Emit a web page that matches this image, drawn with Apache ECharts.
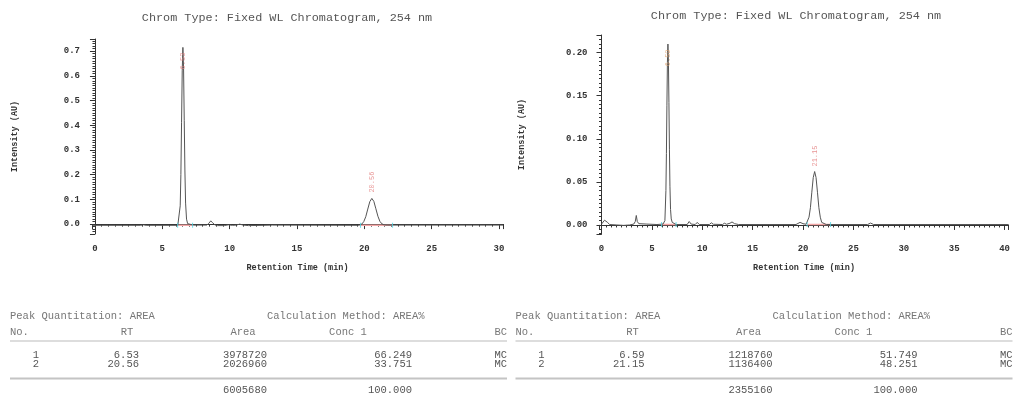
<!DOCTYPE html>
<html>
<head>
<meta charset="utf-8">
<title>Chromatograms</title>
<script src="https://cdn.jsdelivr.net/npm/echarts@6/dist/echarts.min.js"></script>
<style>
html, body { margin: 0; padding: 0; background: #fff; }
#chart { width: 1013px; height: 396px; }
</style>
</head>
<body>
<div id="chart"></div>
<script>
var titleText = 'Chrom Type: Fixed WL Chromatogram, 254 nm';

// left run: trace [min, AU]
var leftTrace = [
    [-0.2, -0.005], [3.4, -0.005], [3.6, -0.003], [3.8, -0.005], [6.15, -0.005],
    [6.2, -0.004], [6.25, 0.002], [6.33, 0.074], [6.38, 0.2], [6.43, 0.41], [6.48, 0.62],
    [6.53, 0.715], [6.58, 0.63], [6.63, 0.42], [6.68, 0.215], [6.73, 0.085], [6.8, 0.02],
    [6.88, 0.002], [7.0, -0.003], [7.3, -0.004], [8.3, -0.004], [8.45, 0.003], [8.6, 0.013],
    [8.75, 0.005], [8.9, -0.003], [9.1, -0.006], [9.6, -0.006], [9.9, -0.003], [10.2, -0.005],
    [10.5, -0.004], [10.75, 0.0], [11.0, -0.004], [11.4, -0.006], [12.5, -0.005], [13.2, -0.004],
    [19.5, -0.005], [19.66, -0.004], [19.81, 0.0], [19.96, 0.010], [20.11, 0.030], [20.26, 0.061],
    [20.41, 0.091], [20.56, 0.104], [20.71, 0.092], [20.86, 0.062], [21.01, 0.032], [21.16, 0.011],
    [21.31, 0.001], [21.46, -0.003], [21.7, -0.004], [30.3, -0.004]
];
var leftPeakRT = [6.53, 20.56];
var leftPeakLabelY = [0.66, 0.17];
var leftPeakLabelColor = ['#e27b7b', '#e27b7b'];
var leftIntegStart = [6.14, 19.72];
var leftIntegEnd = [7.25, 22.1];
var leftBaseY = -0.005;

// right run
var rightTrace = [
    [0.0, 0.001], [0.15, 0.003], [0.3, 0.0055], [0.45, 0.006], [0.6, 0.003], [0.8, 0.0005],
    [1.5, 0.0], [2.2, -0.0005], [2.8, 0.0], [3.2, 0.001], [3.35, 0.004], [3.45, 0.011],
    [3.55, 0.004], [3.7, 0.0015], [4.5, 0.001], [5.5, 0.0005], [6.1, 0.001], [6.2, 0.002],
    [6.29, 0.005], [6.39, 0.040], [6.44, 0.083], [6.49, 0.139], [6.54, 0.189], [6.59, 0.21],
    [6.64, 0.19], [6.69, 0.142], [6.74, 0.088], [6.79, 0.045], [6.85, 0.018], [6.92, 0.007],
    [7.02, 0.003], [7.2, 0.001], [7.4, 0.0005], [8.5, 0.0005], [8.7, 0.004], [8.9, 0.001],
    [9.3, 0.0005], [9.5, 0.003], [9.7, 0.0005], [10.7, 0.0005], [10.9, 0.0025], [11.1, 0.0008],
    [12.0, 0.0005], [12.2, 0.002], [12.4, 0.0008], [12.75, 0.002], [12.95, 0.0035], [13.2, 0.0015],
    [13.6, 0.0005], [19.3, 0.0005], [19.7, 0.003], [20.0, 0.0015], [20.3, 0.0008], [20.45, 0.003],
    [20.59, 0.009], [20.73, 0.020], [20.87, 0.038], [21.01, 0.055], [21.15, 0.062], [21.29, 0.055],
    [21.43, 0.038], [21.57, 0.020], [21.71, 0.009], [21.85, 0.003], [22.0, 0.001], [22.3, 0.0005],
    [26.4, 0.0005], [26.7, 0.0022], [27.0, 0.0005], [40.4, 0.0005]
];
var rightPeakRT = [6.59, 21.15];
var rightPeakLabelY = [0.194, 0.080];
var rightPeakLabelColor = ['#e0a06a', '#e27b7b'];
var rightIntegStart = [5.96, 20.4];
var rightIntegEnd = [7.4, 22.73];
var rightBaseY = 0.0005;

// tables
var tableHead = ['No.', 'RT', 'Area', 'Conc 1', 'BC'];
var peakNo = ['1', '2'];
var leftRT = ['6.53', '20.56'];
var leftArea = ['3978720', '2026960'];
var leftConc = ['66.249', '33.751'];
var leftBC = ['MC', 'MC'];
var leftTotal = ['6005680', '100.000'];
var rightRT = ['6.59', '21.15'];
var rightArea = ['1218760', '1136400'];
var rightConc = ['51.749', '48.251'];
var rightBC = ['MC', 'MC'];
var rightTotal = ['2355160', '100.000'];

var mono = 'Liberation Mono';
var axisColor = '#333';

function fmtEvery(step, digits) {
    return function (v) {
        var k = v / step;
        return Math.abs(k - Math.round(k)) < 1e-6 ? v.toFixed(digits) : '';
    };
}

function majorX(grid, min, max, split) {
    return {
        type: 'value', gridIndex: grid, min: min, max: max, splitNumber: split, position: 'bottom',
        name: 'Retention Time (min)', nameLocation: 'middle', nameGap: 29,
        nameTextStyle: { fontFamily: mono, fontWeight: 'bold', fontSize: 8.5, color: axisColor },
        axisLine: { lineStyle: { color: axisColor, width: 1 } },
        axisTick: { length: 5, lineStyle: { color: axisColor } },
        axisLabel: { formatter: fmtEvery(5, 0), margin: 10, fontFamily: mono, fontWeight: 'bold', fontSize: 9, color: axisColor },
        splitLine: { show: false }
    };
}
function minorX(grid, min, max, split) {
    return {
        type: 'value', gridIndex: grid, min: min, max: max, splitNumber: split, position: 'bottom',
        axisLine: { show: false },
        axisTick: { length: 2.5, lineStyle: { color: axisColor } },
        axisLabel: { show: false },
        splitLine: { show: false }
    };
}
function majorY(grid, min, max, split, step, digits) {
    return {
        type: 'value', gridIndex: grid, min: min, max: max, splitNumber: split, position: 'left',
        name: 'Intensity (AU)', nameLocation: 'middle', nameGap: 73, nameRotate: 90,
        nameTextStyle: { fontFamily: mono, fontWeight: 'bold', fontSize: 8.5, color: axisColor },
        axisLine: { show: true, lineStyle: { color: axisColor, width: 1 } },
        axisTick: { show: true, length: 5, lineStyle: { color: axisColor } },
        axisLabel: { formatter: fmtEvery(step, digits), margin: 12, fontFamily: mono, fontWeight: 'bold', fontSize: 9, color: axisColor },
        splitLine: { show: false }
    };
}
function minorY(grid, min, max, split) {
    return {
        type: 'value', gridIndex: grid, min: min, max: max, splitNumber: split, position: 'left',
        axisLine: { show: false },
        axisTick: { show: true, length: 2.5, lineStyle: { color: axisColor } },
        axisLabel: { show: false },
        splitLine: { show: false }
    };
}

function runSeries(xi, yi, trace, rts, labelY, labelColor, starts, ends, baseY) {
    var out = [];
    for (var i = 0; i < starts.length; i++) {
        out.push({
            type: 'line', xAxisIndex: xi, yAxisIndex: yi, silent: true, z: 1,
            showSymbol: false, symbol: 'none',
            lineStyle: { color: '#f3a5a5', width: 1.5 },
            data: [[starts[i], baseY], [ends[i], baseY]]
        });
    }
    out.push({
        type: 'line', xAxisIndex: xi, yAxisIndex: yi, silent: true, z: 2,
        showSymbol: false, symbol: 'none',
        lineStyle: { color: '#555', width: 1 },
        data: trace
    });
    var marks = [];
    for (var j = 0; j < starts.length; j++) {
        marks.push([starts[j], baseY], [ends[j], baseY]);
    }
    out.push({
        type: 'scatter', xAxisIndex: xi, yAxisIndex: yi, silent: true, z: 3,
        symbol: 'rect', symbolSize: [1, 5],
        itemStyle: { color: '#4fd3e3' },
        data: marks
    });
    out.push({
        type: 'scatter', xAxisIndex: xi, yAxisIndex: yi, silent: true, z: 4,
        symbolSize: 1, itemStyle: { color: 'transparent' },
        label: {
            show: true, position: 'inside', rotate: 90,
            fontFamily: mono, fontSize: 7,
            formatter: function (p) { return p.value[0].toFixed(2); }
        },
        data: rts.map(function (rt, k) {
            return { value: [rt, labelY[k]], label: { color: labelColor[k] } };
        })
    });
    return out;
}

function tableGraphics(x0, rt, area, conc, bc, total) {
    var g = [];
    var headColor = '#777', dataColor = '#555', fs = 10.5;
    function txt(x, y, s, align, color) {
        g.push({
            type: 'text', x: x0 + x, y: y, silent: true,
            style: { text: s, fill: color, fontFamily: mono, fontSize: fs, textAlign: align, textVerticalAlign: 'middle' }
        });
    }
    function hline(y, w, c) {
        g.push({ type: 'line', silent: true, shape: { x1: x0 + 10, y1: y, x2: x0 + 507, y2: y }, style: { stroke: c, lineWidth: w } });
    }
    txt(10, 316, 'Peak Quantitation: AREA', 'left', headColor);
    txt(267, 316, 'Calculation Method: AREA%', 'left', headColor);
    txt(10, 332.5, tableHead[0], 'left', headColor);
    txt(127, 332.5, tableHead[1], 'center', headColor);
    txt(243, 332.5, tableHead[2], 'center', headColor);
    txt(348, 332.5, tableHead[3], 'center', headColor);
    txt(507, 332.5, tableHead[4], 'right', headColor);
    hline(341, 1, '#bbb');
    var rowY = [355.5, 364];
    for (var i = 0; i < peakNo.length; i++) {
        txt(39, rowY[i], peakNo[i], 'right', dataColor);
        txt(139, rowY[i], rt[i], 'right', dataColor);
        txt(267, rowY[i], area[i], 'right', dataColor);
        txt(412, rowY[i], conc[i], 'right', dataColor);
        txt(507, rowY[i], bc[i], 'right', dataColor);
    }
    hline(378.5, 2, '#c4c4c4');
    txt(267, 390, total[0], 'right', dataColor);
    txt(412, 390, total[1], 'right', dataColor);
    return g;
}

var chart = echarts.init(document.getElementById('chart'));

var series = []
    .concat(runSeries(0, 0, leftTrace, leftPeakRT, leftPeakLabelY, leftPeakLabelColor, leftIntegStart, leftIntegEnd, leftBaseY))
    .concat(runSeries(2, 2, rightTrace, rightPeakRT, rightPeakLabelY, rightPeakLabelColor, rightIntegStart, rightIntegEnd, rightBaseY));

var option = {
    animation: false,
    backgroundColor: '#fff',
    title: [{
        text: titleText, left: 287, top: 12, textAlign: 'center', padding: 0,
        textStyle: { fontFamily: mono, fontSize: 11.8, fontWeight: 'normal', color: '#555' }
    }, {
        text: titleText, left: 796, top: 10, textAlign: 'center', padding: 0,
        textStyle: { fontFamily: mono, fontSize: 11.8, fontWeight: 'normal', color: '#555' }
    }],
    grid: [
        { left: 92, top: 39, width: 411, height: 195 },
        { left: 599.5, top: 35, width: 418, height: 199 }
    ],
    xAxis: [
        majorX(0, -0.22, 30.3, 6),
        minorX(0, -0.22, 30.3, 61),
        majorX(1, -0.2, 40.4, 8),
        minorX(1, -0.2, 40.4, 81)
    ],
    yAxis: [
        majorY(0, -0.04, 0.749, 8, 0.1, 1),
        minorY(0, -0.04, 0.749, 79),
        majorY(1, -0.0105, 0.2205, 5, 0.05, 2),
        minorY(1, -0.0105, 0.2205, 46)
    ],
    graphic: tableGraphics(0, leftRT, leftArea, leftConc, leftBC, leftTotal)
        .concat(tableGraphics(505.5, rightRT, rightArea, rightConc, rightBC, rightTotal)),
    series: series
};

chart.setOption(option);
</script>
</body>
</html>
